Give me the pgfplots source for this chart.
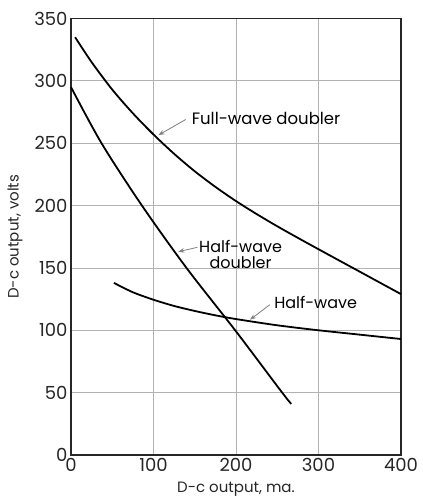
\documentclass[border=0pt]{standalone}
\usepackage{pgfplots}
\pgfplotsset{compat=1.18}
\usepackage{fontspec}
\setmainfont{Poppins}
\usetikzlibrary{arrows.meta}
\begin{document}
\begin{tikzpicture}
\begin{axis}[
    name=main,
    scale only axis,
    width=330pt, height=436.5pt,
    xmin=0, xmax=400, ymin=0, ymax=350,
    xtick={0,100,...,400},
    ytick={0,50,...,350},
    grid=major,
    major grid style={gray!60, line width=0.8pt},
    axis line style={line width=1.1pt, black!85},
    major tick length=0pt,
    /pgf/number format/assume math mode=true,
    tick label style={font=\fontsize{18}{20}\selectfont, text=black!85},
    xlabel={D-c output, ma.},
    ylabel={D-c output, volts},
    label style={font=\fontsize{15}{17}\selectfont, text=black!85, inner sep=0pt},
    xlabel style={at={(axis description cs:0.5,-0.0848)}, anchor=base},
    ylabel style={at={(axis description cs:-0.1697,0.5)}, anchor=center},
    clip=false,
]
% Full-wave doubler
\addplot[black, line width=1.8pt, smooth] coordinates {
    (5,335) (25,315) (50,293) (75,274) (100,257) (125,241.5) (150,227.5)
    (175,215) (200,203.6) (225,193.2) (250,183.4) (275,174.1) (300,165)
    (350,147) (400,129)
};
% Half-wave doubler
\addplot[black, line width=1.8pt, smooth] coordinates {
    (0,295) (37,250) (86,200) (140,150) (199,100) (256,50) (267,41)
};
% Half-wave
\addplot[black, line width=1.8pt, smooth] coordinates {
    (52,138) (75,130.5) (100,124.5) (125,119.5) (150,115.5) (175,112)
    (200,109) (250,104) (300,100) (350,96.5) (400,93)
};

\node[anchor=west, font=\fontsize{16.5}{18}\selectfont, inner sep=1pt]
    at (axis cs:145,270) {Full-wave doubler};
\draw[gray, line width=0.8pt, -{Stealth[length=6pt]}] (axis cs:139,269) -- (axis cs:106,256.5);

\node[anchor=west, align=center, font=\fontsize{16}{16}\selectfont, inner sep=1pt]
    at (axis cs:154,160.5) {Half-wave\\doubler};
\draw[gray, line width=0.8pt, -{Stealth[length=6pt]}] (axis cs:153,166.5) -- (axis cs:130,163);

\node[anchor=west, font=\fontsize{16}{18}\selectfont, inner sep=1pt]
    at (axis cs:245,122.7) {Half-wave};
\draw[gray, line width=0.8pt, -{Stealth[length=6pt]}] (axis cs:241,120.5) -- (axis cs:217,108.5);
\end{axis}
\path (main.south west) ++(-71pt,-41pt) rectangle ++(423pt,496pt);
\end{tikzpicture}
\end{document}
